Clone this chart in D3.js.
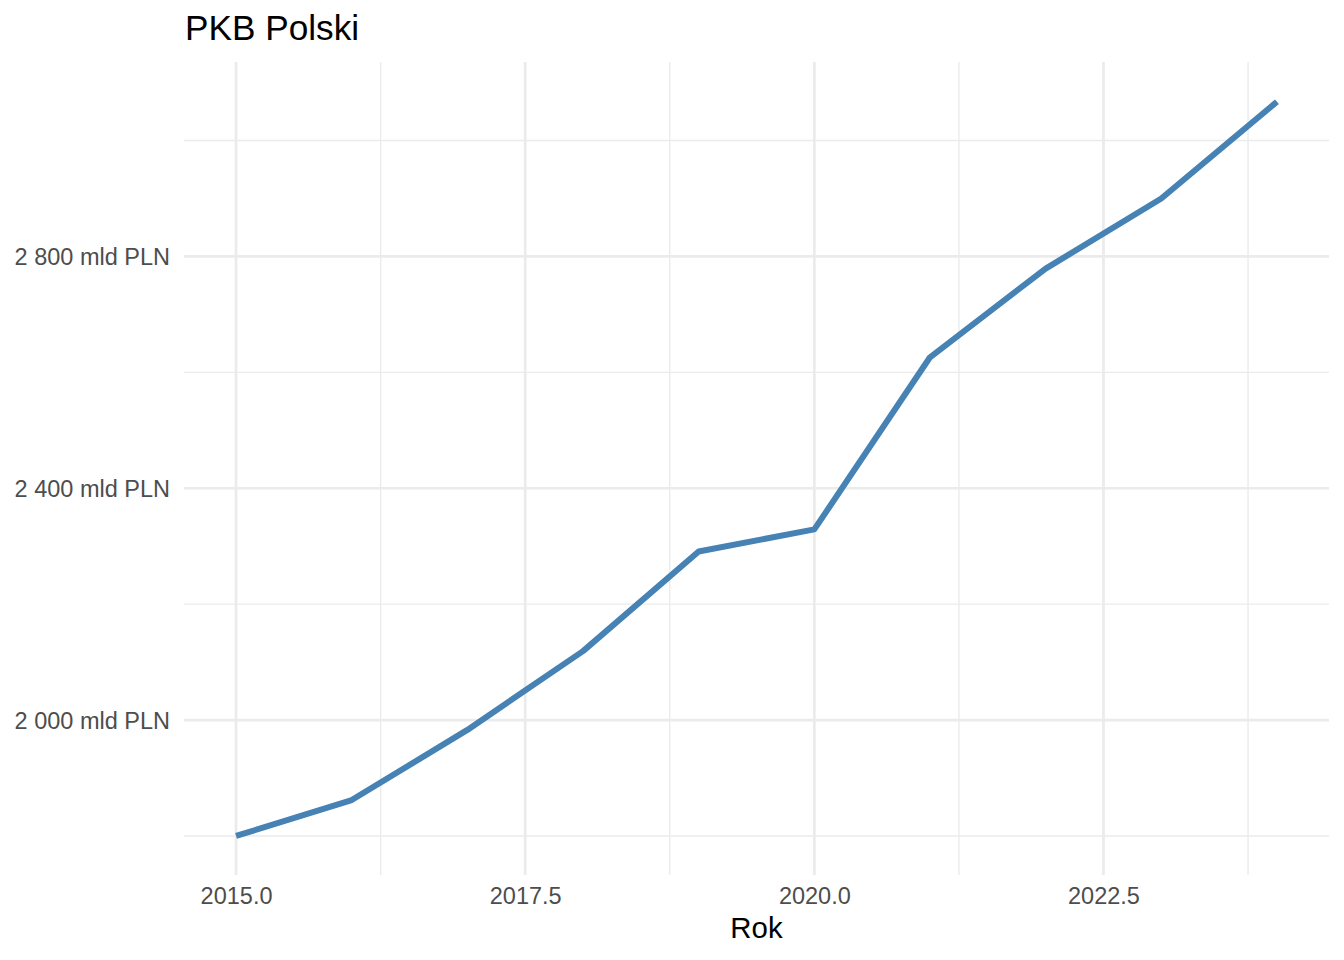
<!DOCTYPE html>
<html>
<head>
<meta charset="utf-8">
<script src="https://cdn.jsdelivr.net/npm/d3@7"></script>
<style>
html,body{margin:0;padding:0;background:#fff;}
svg{display:block;font-family:"Liberation Sans",Arial,sans-serif;}
</style>
</head>
<body>
<svg id="chart" width="1344" height="960"></svg>
<script>
const years = [2015, 2016, 2017, 2018, 2019, 2020, 2021, 2022, 2023, 2024];
const gdp = [1800, 1862, 1983, 2119, 2291, 2329, 2626, 2779, 2900, 3067];
const xMajorTicks = [2015, 2017.5, 2020, 2022.5];
const xMinorTicks = [2016.25, 2018.75, 2021.25, 2023.75];
const yMajorTicks = [2000, 2400, 2800];
const yMinorTicks = [1800, 2200, 2600, 3000];
const titleText = "PKB Polski";
const xTitle = "Rok";

const svg = d3.select("#chart");
const W = 1344, H = 960;
const panel = {left: 184, right: 1329, top: 65, bottom: 872.7};

const xExt = d3.extent(years), xPad = (xExt[1]-xExt[0])*0.05;
const yExt = d3.extent(gdp), yPad = (yExt[1]-yExt[0])*0.05;
const x = d3.scaleLinear().domain([xExt[0]-xPad, xExt[1]+xPad]).range([panel.left, panel.right]);
const y = d3.scaleLinear().domain([yExt[0]-yPad, yExt[1]+yPad]).range([panel.bottom, panel.top]);

const loc = d3.formatLocale({decimal: ",", thousands: " ", grouping: [3], currency: ["", ""]});
const yFmt = v => loc.format(",")(v) + " mld PLN";
const xFmt = d3.format(".1f");

const gTop = 62, gBot = 875;
// minor grid
svg.append("g").selectAll("line").data(yMinorTicks).join("line")
  .attr("x1", panel.left).attr("x2", panel.right)
  .attr("y1", d => y(d)).attr("y2", d => y(d))
  .attr("stroke", "#EBEBEB").attr("stroke-width", 1.4);
svg.append("g").selectAll("line").data(xMinorTicks).join("line")
  .attr("y1", gTop).attr("y2", gBot)
  .attr("x1", d => x(d)).attr("x2", d => x(d))
  .attr("stroke", "#EBEBEB").attr("stroke-width", 1.4);
// major grid
svg.append("g").selectAll("line").data(yMajorTicks).join("line")
  .attr("x1", panel.left).attr("x2", panel.right)
  .attr("y1", d => y(d)).attr("y2", d => y(d))
  .attr("stroke", "#EBEBEB").attr("stroke-width", 2.7);
svg.append("g").selectAll("line").data(xMajorTicks).join("line")
  .attr("y1", gTop).attr("y2", gBot)
  .attr("x1", d => x(d)).attr("x2", d => x(d))
  .attr("stroke", "#EBEBEB").attr("stroke-width", 2.7);

// axes via d3 axis (no domain, no tick lines)
const yAxis = svg.append("g").attr("transform", `translate(${panel.left},0)`)
  .call(d3.axisLeft(y).tickValues(yMajorTicks).tickFormat(yFmt).tickSize(0).tickPadding(14));
yAxis.select(".domain").remove();
yAxis.selectAll("text").attr("fill", "#4D4D4D").attr("font-size", 23.5)
  .attr("font-family", "Liberation Sans, Arial, sans-serif").attr("dy", "0.36em");

const xAxis = svg.append("g").attr("transform", `translate(0,${gBot})`)
  .call(d3.axisBottom(x).tickValues(xMajorTicks).tickFormat(xFmt).tickSize(0).tickPadding(12));
xAxis.select(".domain").remove();
xAxis.selectAll("text").attr("fill", "#4D4D4D").attr("font-size", 23.5)
  .attr("font-family", "Liberation Sans, Arial, sans-serif");

// line
const line = d3.line().x((d, i) => x(years[i])).y(d => y(d));
svg.append("path").datum(gdp).attr("d", line)
  .attr("fill", "none").attr("stroke", "steelblue").attr("stroke-width", 6)
  .attr("stroke-linejoin", "round").attr("stroke-linecap", "butt");

// titles
svg.append("text").attr("x", (panel.left + panel.right) / 2).attr("y", 938)
  .attr("text-anchor", "middle").attr("font-size", 29.4).attr("fill", "#000").text(xTitle);
svg.append("text").attr("x", 185).attr("y", 40)
  .attr("font-size", 35.2).attr("fill", "#000").text(titleText);
</script>
</body>
</html>
